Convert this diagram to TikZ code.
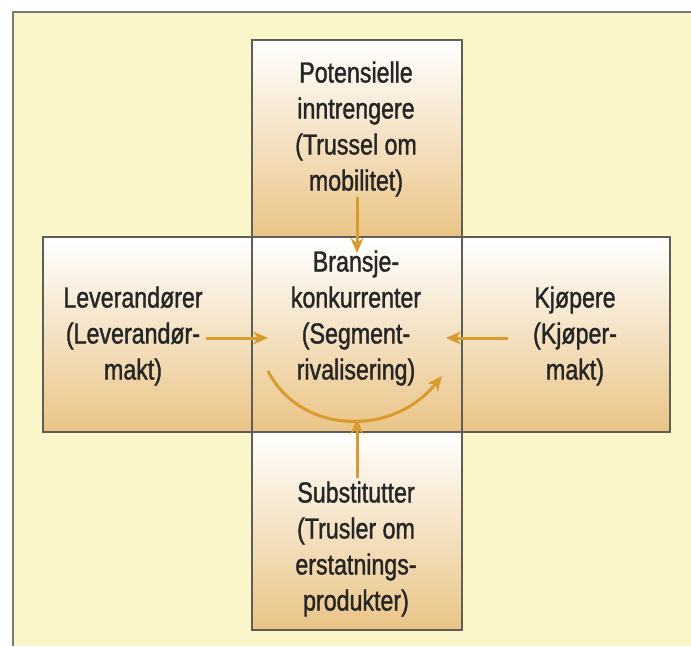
\documentclass[tikz,border=0pt]{standalone}
\usepackage{fontspec}
\setmainfont{Liberation Sans}[FakeStretch=0.8,FakeBold=1.3]
\usetikzlibrary{arrows.meta}
\definecolor{bgyellow}{HTML}{FBF6C9}
\definecolor{frame}{HTML}{7A7A72}
\definecolor{tan}{HTML}{EAC486}
\definecolor{edge}{HTML}{5E5E56}
\definecolor{gold}{HTML}{D89B2E}
\definecolor{ink}{HTML}{262626}
\tikzset{
  box/.style={draw=edge, line width=1.4pt, top color=white, bottom color=tan, inner sep=0pt},
  lbl/.style={align=center, inner sep=0pt, text=ink, font=\fontsize{29}{36}\selectfont},
  force/.style={draw=gold, line width=3pt, -{Stealth[length=15pt,width=13pt]}}
}
\begin{document}
\begin{tikzpicture}[x=1pt,y=-1pt]
\useasboundingbox (0,0) rectangle (691,646);
\fill[white] (0,0) rectangle (691,646);
\fill[bgyellow] (13,12) rectangle (691,646);
\draw[frame, line width=2.5pt] (13,646) -- (13,12) -- (691,12);
% boxes
\node[box, minimum width=210pt, minimum height=197pt] (top) at (357,138.5) {};
\node[box, minimum width=209pt, minimum height=195pt] (left) at (147.5,334.5) {};
\node[box, minimum width=208pt, minimum height=195pt] (right) at (566,334.5) {};
\node[box, minimum width=210pt, minimum height=198pt] (bottom) at (357,531) {};
\node[box, minimum width=210pt, minimum height=195pt] (center) at (357,334.5) {};
% texts
\node[lbl] (ttop) at (356,129) {Potensielle\\inntrengere\\(Trussel om\hspace*{0.45em}\\mobilitet)};
\node[lbl] (tleft) at (133,336) {Leverandører\\(Leverandør-\\makt)};
\node[lbl] (tright) at (575,336) {Kjøpere\\(Kjøper-\\makt)};
\node[lbl] (tcenter) at (356,318) {Bransje-\\konkurrenter\\(Segment-\\rivalisering)};
\node[lbl] (tbottom) at (356,549) {Substitutter\\(Trusler om\\erstatnings-\\produkter)};
% arrow end points
\coordinate (a1) at (357,197);
\coordinate (a2) at (357,253);
\coordinate (b1) at (206,338);
\coordinate (b2) at (268,338);
\coordinate (c1) at (508,338);
\coordinate (c2) at (446,338);
\coordinate (d1) at (357,478);
\coordinate (d2) at (357,419);
\coordinate (e1) at (268,371);
\coordinate (e2) at (442,376);
% arrows
\draw[force] (a1) -- (a2);
\draw[force] (b1) -- (b2);
\draw[force] (c1) -- (c2);
\draw[force] (d1) -- (d2);
\draw[force] (e1) .. controls (300,434) and (392,438) .. (e2);
\end{tikzpicture}
\end{document}
